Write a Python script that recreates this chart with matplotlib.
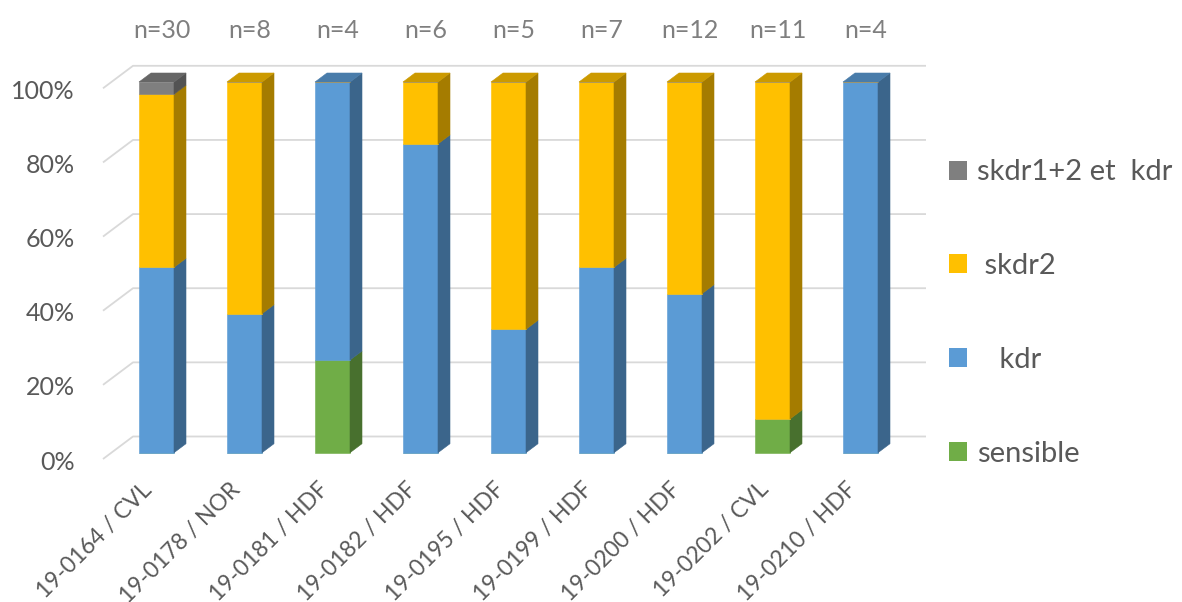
"""Stacked 100% 3D-style column chart of kdr genotypes per sample."""

import matplotlib

matplotlib.use("Agg")
import matplotlib.pyplot as plt
import numpy as np
from matplotlib.patches import Patch, Polygon

categories = [
    "19-0164 / CVL",
    "19-0178 / NOR",
    "19-0181 / HDF",
    "19-0182 / HDF",
    "19-0195 / HDF",
    "19-0199 / HDF",
    "19-0200 / HDF",
    "19-0202 / CVL",
    "19-0210 / HDF",
]
n_values = [30, 8, 4, 6, 5, 7, 12, 11, 4]

# stacked bottom -> top, in percent
sensible = [0, 0, 25, 0, 0, 0, 0, 9.1, 0]
kdr = [50, 37.5, 75, 83.3, 33.3, 50, 42.9, 0, 100]
skdr2 = [46.7, 62.5, 0, 16.7, 66.7, 50, 57.1, 90.9, 0]
skdr12_kdr = [3.3, 0, 0, 0, 0, 0, 0, 0, 0]

series_labels = ["sensible", "   kdr", " skdr2", "skdr1+2 et  kdr"]
y_ticks = [0, 20, 40, 60, 80, 100]

# front / top / side shades
colors = [
    ("#70AD47", "#5A8A39", "#48702E"),
    ("#5B9BD5", "#497CAA", "#3B658B"),
    ("#FFC000", "#CC9A00", "#A57C00"),
    ("#7F7F7F", "#666666", "#535353"),
]

FONT = "Lato"
TXT = "#595959"

W, H = 1182, 602
fig = plt.figure(figsize=(W / 100, H / 100), dpi=100)
ax = fig.add_axes([0, 0, 1, 1])

# pixel geometry of the plot
x0_px, x_step = 156.5, 88.0
y0_px, y_scale = 452.7, 3.707
ax.set_xlim((0 - x0_px) / x_step, (W - x0_px) / x_step)
ax.set_ylim((y0_px - H) / y_scale, y0_px / y_scale)
ax.axis("off")

px_x = 1 / x_step
px_y = 1 / y_scale
depth_dx, depth_dy = 12 * px_x, 9 * px_y
bar_w = 35 * px_x

# back wall gridlines with the floor diagonal
grid_left = (103 - x0_px) * px_x
grid_back = (133 - x0_px) * px_x
grid_right = (926 - x0_px) * px_x
for v in y_ticks:
    yf = v - 6.3 * px_y
    yb = v + 16.2 * px_y
    ax.plot([grid_left, grid_back, grid_right], [yf, yb, yb],
            color="#D9D9D9", lw=1.3, zorder=1, solid_capstyle="butt")
    ax.text(grid_left - 28 * px_x, v - 9.3 * px_y, f"{v}%",
            ha="right", va="center", fontsize=18, color=TXT, family=FONT)

x = np.arange(len(categories))
stack = [sensible, kdr, skdr2, skdr12_kdr]
bottoms = np.zeros(len(categories))
tops = np.array(stack).sum(axis=0)

for vals, (front, top, side) in zip(stack, colors):
    vals = np.array(vals, dtype=float)
    ax.bar(x, vals, bottom=bottoms, width=bar_w, color=front,
           edgecolor=front, linewidth=0.4, zorder=3)
    for xi, b, v in zip(x, bottoms, vals):
        if v <= 0:
            continue
        xr = xi + bar_w / 2
        ax.add_patch(Polygon(
            [(xr, b), (xr + depth_dx, b + depth_dy),
             (xr + depth_dx, b + v + depth_dy), (xr, b + v)],
            closed=True, facecolor=side, edgecolor=side, lw=0.4, zorder=3))
        if abs(b + v - tops[xi]) < 1e-6:
            xl = xi - bar_w / 2
            t = b + v
            ax.add_patch(Polygon(
                [(xl, t), (xr, t), (xr + depth_dx, t + depth_dy),
                 (xl + depth_dx, t + depth_dy)],
                closed=True, facecolor=top, edgecolor=top, lw=0.4, zorder=3))
    bottoms = bottoms + vals

# sample sizes above the columns
for xi, n in zip(x, n_values):
    ax.text(xi + 0.06, (y0_px - 30) * px_y, f"n={n}", ha="center", va="center",
            fontsize=18, color="#7F7F7F", family=FONT)

# rotated category labels
for xi, lab in zip(x, categories):
    ax.text(xi - 0.17, (y0_px - 479) * px_y, lab, rotation=45, ha="right",
            va="top", rotation_mode="anchor", fontsize=16.5, color=TXT,
            family=FONT)

handles = [Patch(facecolor=c[0], edgecolor="none") for c in colors]
leg = ax.legend(handles[::-1], series_labels[::-1], loc="center left",
                bbox_to_anchor=(949 / W, 1 - 313 / H), frameon=False,
                prop={"family": FONT, "size": 21}, labelcolor=TXT,
                handlelength=0.62, handleheight=0.62, handletextpad=0.35,
                labelspacing=2.32, borderpad=0, borderaxespad=0)

fig.savefig("out.png", dpi=100)
